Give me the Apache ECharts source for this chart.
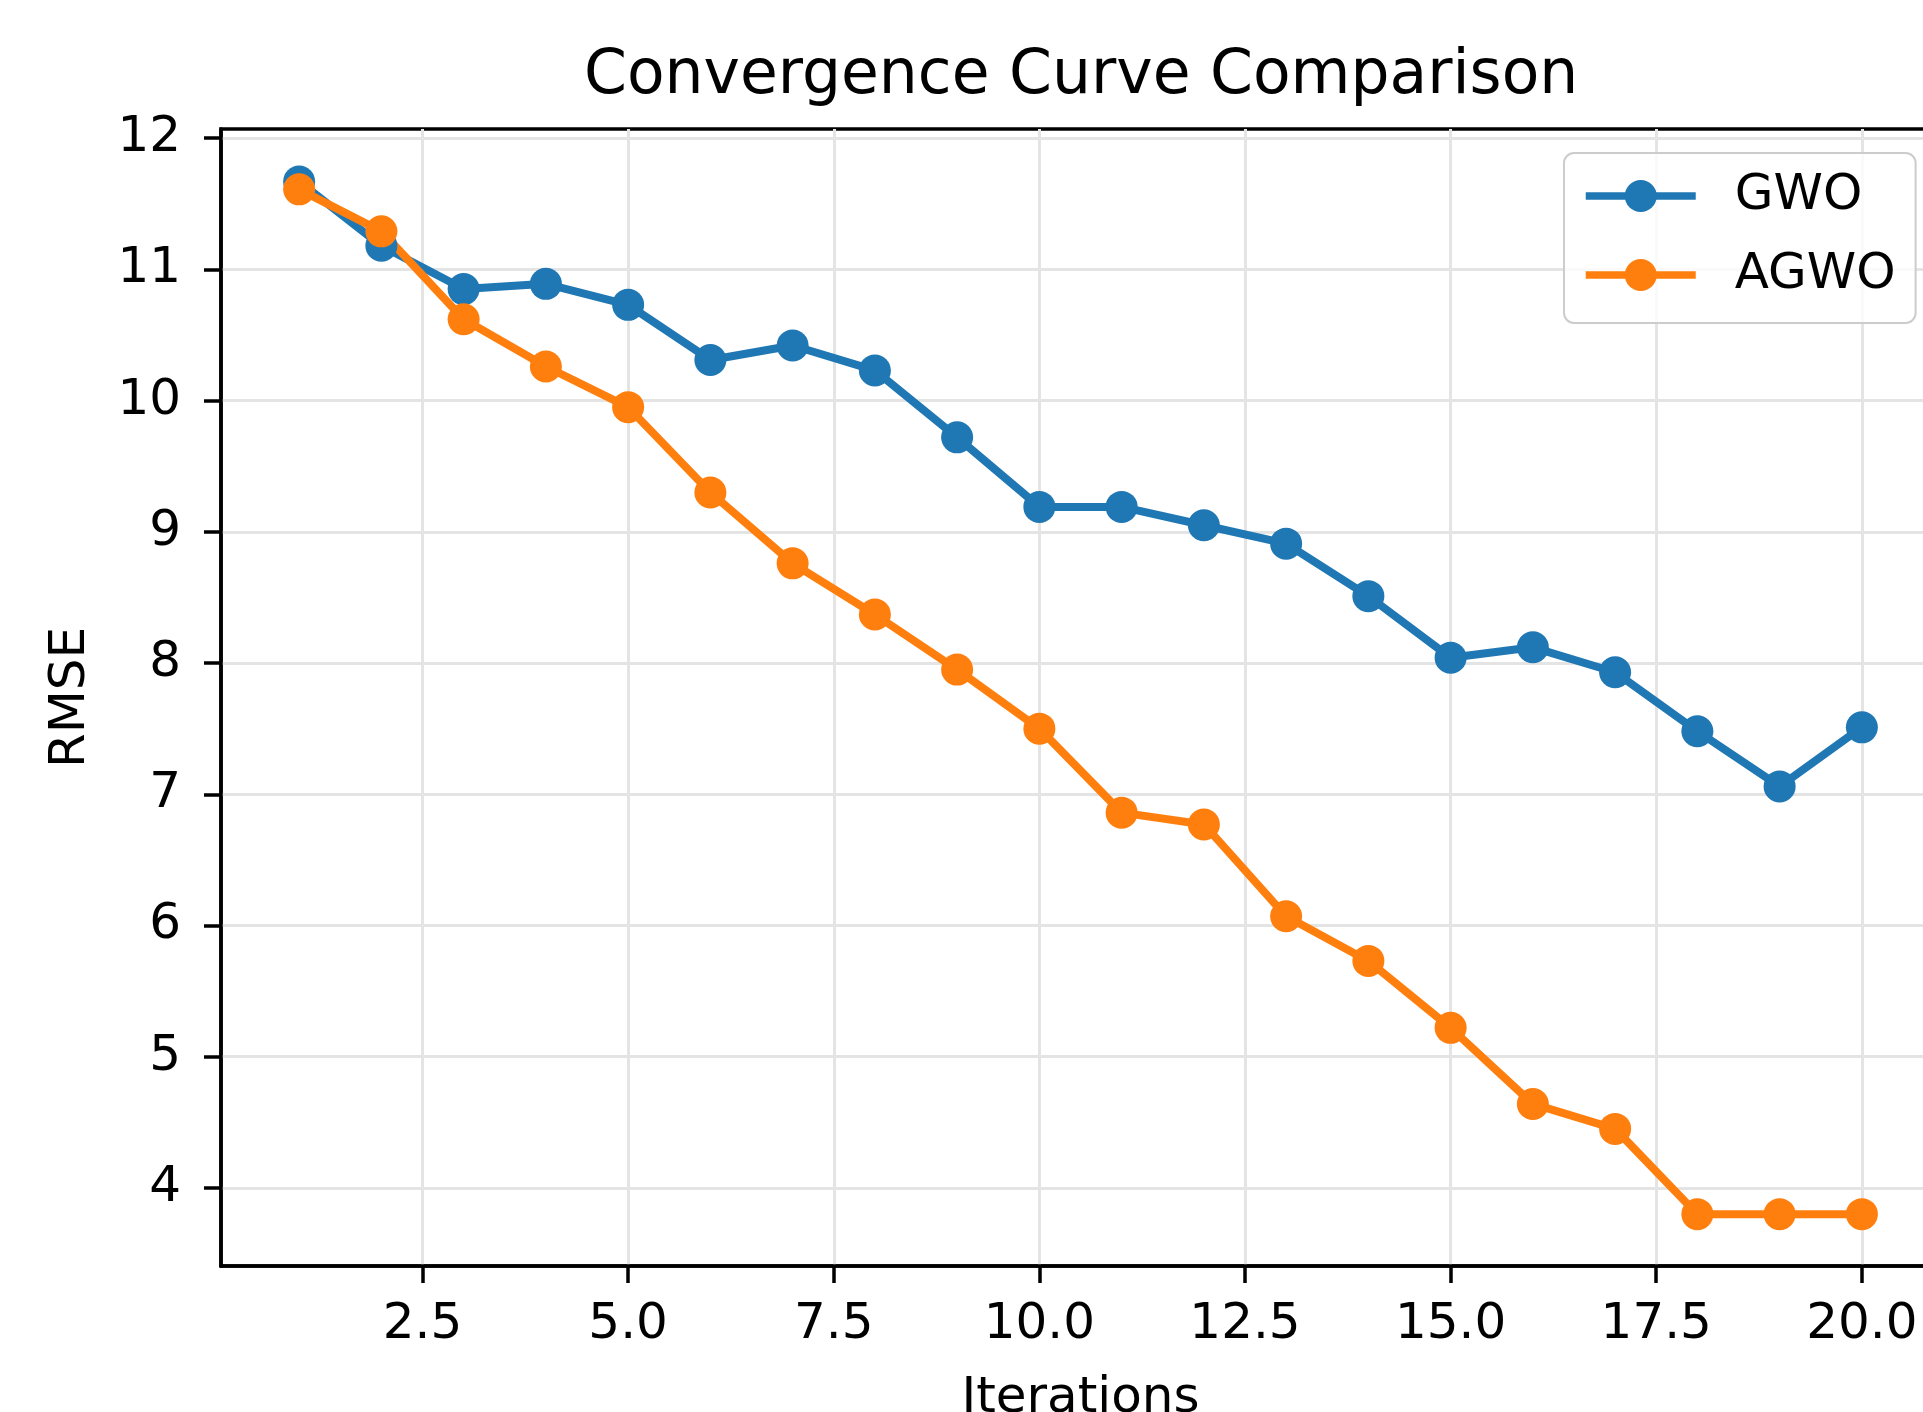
<!DOCTYPE html>
<html>
<head>
<meta charset="utf-8">
<script src="https://cdn.jsdelivr.net/npm/echarts@6/dist/echarts.min.js"></script>
<style>
  html, body { margin: 0; padding: 0; background: #fff; overflow: hidden; }
  #chart { width: 1923px; height: 1412px; }
</style>
</head>
<body>
<div id="chart"></div>
<script>
// 迭代次数
const iterations = [1, 2, 3, 4, 5, 6, 7, 8, 9, 10, 11, 12, 13, 14, 15, 16, 17, 18, 19, 20]
// 两种算法的 RMSE
const gwo = [11.67, 11.18, 10.85, 10.89, 10.73, 10.31, 10.42, 10.23, 9.72, 9.19,
  9.19, 9.05, 8.91, 8.51, 8.04, 8.12, 7.93, 7.48, 7.06, 7.51]
const agwo = [11.61, 11.29, 10.62, 10.26, 9.95, 9.30, 8.76, 8.37, 7.95, 7.50,
  6.86, 6.77, 6.07, 5.73, 5.22, 4.64, 4.45, 3.80, 3.80, 3.80]
// 坐标轴刻度
const xTicks = [2.5, 5, 7.5, 10, 12.5, 15, 17.5, 20]
const yTicks = [4, 5, 6, 7, 8, 9, 10, 11, 12]

const font = 'DejaVu Sans'
const chart = echarts.init(document.getElementById('chart'))

const axisCommon = {
  axisLine: { show: true, lineStyle: { color: '#000', width: 3.5 } },
  axisTick: { show: true, length: 17, lineStyle: { color: '#000', width: 3.5 } },
  splitLine: { show: true, lineStyle: { color: '#e4e4e4', width: 3 } },
  nameTextStyle: { fontFamily: font, fontSize: 50, color: '#000' }
}

const option = {
  animation: false,
  backgroundColor: '#fff',
  title: {
    text: 'Convergence Curve Comparison',
    left: 584,
    top: 46,
    padding: 0,
    textStyle: { fontFamily: font, fontSize: 61.5, fontWeight: 'normal', color: '#000' }
  },
  legend: {
    left: 1564,
    top: 153,
    orient: 'vertical',
    padding: [18, 20, 23, 18],
    itemWidth: 110,
    itemHeight: 40,
    itemGap: 29,
    backgroundColor: 'rgba(255,255,255,0.8)',
    borderColor: '#cccccc',
    borderWidth: 2,
    borderRadius: 10,
    lineStyle: { width: 7.5 },
    textStyle: { fontFamily: font, fontSize: 50, lineHeight: 50, color: '#000', padding: [0, 0, 0, 34] },
    data: ['GWO', 'AGWO']
  },
  grid: {
    left: 221,
    top: 129,
    width: 1719,
    height: 1137,
    outerBoundsMode: 'none',
    containLabel: false,
    show: true,
    borderColor: '#000',
    borderWidth: 3.5,
    backgroundColor: '#fff'
  },
  xAxis: {
    ...axisCommon,
    type: 'value',
    min: 0.05,
    max: 20.95,
    name: 'Iterations',
    nameLocation: 'middle',
    nameGap: 108,
    axisTick: { ...axisCommon.axisTick, customValues: xTicks },
    axisLabel: {
      customValues: xTicks,
      margin: 34,
      fontFamily: font,
      fontSize: 50,
      color: '#000',
      formatter: v => v.toFixed(1)
    }
  },
  yAxis: {
    ...axisCommon,
    type: 'value',
    min: 3.405,
    max: 12.07,
    name: 'RMSE',
    nameLocation: 'middle',
    nameGap: 125,
    axisTick: { ...axisCommon.axisTick, customValues: yTicks },
    axisLabel: {
      customValues: yTicks,
      margin: 40,
      fontFamily: font,
      fontSize: 50,
      color: '#000',
      formatter: v => String(v)
    }
  },
  series: [
    {
      name: 'GWO',
      type: 'line',
      data: iterations.map((x, i) => [x, gwo[i]]),
      symbol: 'circle',
      symbolSize: 32,
      color: '#1f77b4',
      lineStyle: { width: 8, color: '#1f77b4' },
      itemStyle: { color: '#1f77b4' }
    },
    {
      name: 'AGWO',
      type: 'line',
      data: iterations.map((x, i) => [x, agwo[i]]),
      symbol: 'circle',
      symbolSize: 32,
      color: '#ff7f0e',
      lineStyle: { width: 8, color: '#ff7f0e' },
      itemStyle: { color: '#ff7f0e' }
    }
  ]
}

chart.setOption(option)
</script>
</body>
</html>
